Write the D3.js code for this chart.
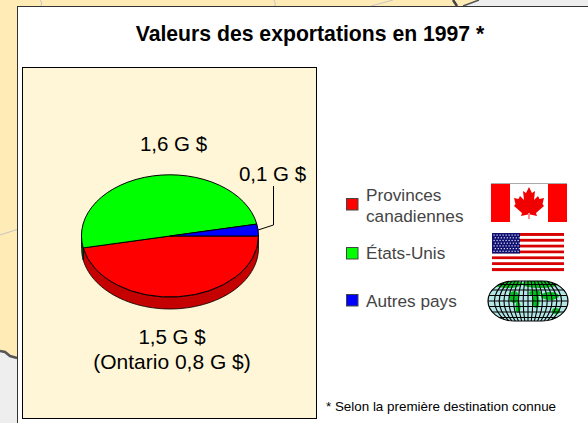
<!DOCTYPE html>
<html><head><meta charset="utf-8">
<script src="https://cdn.jsdelivr.net/npm/d3@7"></script>
<style>html,body{margin:0;padding:0;background:#fff}svg{display:block}text{font-family:"Liberation Sans",Arial,sans-serif}</style>
</head><body><svg id="c" width="588" height="423"></svg>
<script>
const categories = ["Provinces canadiennes", "États-Unis", "Autres pays"];
const values = [1.5, 1.6, 0.1];
const topColors = ["#ff0000", "#00ff00", "#0000ff"];
const sideColors = ["#c40000", "#006000", "#0000a0"];
const title = "Valeurs des exportations en 1997 *";
const footnote = "* Selon la première destination connue";

const svg = d3.select("#c");
// backdrop map
svg.append("rect").attr("width",588).attr("height",423).attr("fill","#ffebb6");
svg.append("path").attr("d","M0,352 L5,352 L10,356 L17,358 L17,423 L0,423Z").attr("fill","#eeeeee");
svg.append("path").attr("d","M479,0 L463,6 L588,6 L588,0Z").attr("fill","#eeeeee");
svg.append("path").attr("d","M0,351 L5,352 L10,356 L17,358").attr("fill","none").attr("stroke","#555").attr("stroke-width",2.5);
svg.append("path").attr("d","M453,0 L457,6").attr("fill","none").attr("stroke","#444").attr("stroke-width",2.5);
svg.append("path").attr("d","M479,0 L463,6").attr("fill","none").attr("stroke","#555").attr("stroke-width",1.5);
[["M0,235 L17,229.5"],["M371,6 L393,0"],["M274,0 Q276,3 275,6"],["M40,0 Q43,3 41,6"]].forEach(d=>
  svg.append("path").attr("d",d[0]).attr("fill","none").attr("stroke","#c4c4c4").attr("stroke-width",1));
// panels
svg.append("rect").attr("x",17.5).attr("y",6.5).attr("width",600).attr("height",450).attr("fill","#fff").attr("stroke","#333");
svg.append("rect").attr("x",22.5).attr("y",67.5).attr("width",294).attr("height",351).attr("fill","#fff6d8").attr("stroke","#000");

svg.append("text").attr("x",310).attr("y",41).attr("text-anchor","middle")
  .attr("font-size",21.2).attr("font-weight","bold").attr("fill","#000").text(title);

// pie
const cx=170, cy=236, rx=88.5, ry=61, depth=12;
const arcs = d3.pie().sort(null).value(d=>d).startAngle(Math.PI/2).endAngle(Math.PI/2+2*Math.PI)(values);
const toScreen = a => a-Math.PI/2;
const wall = d3.area().x(t=>cx+rx*Math.cos(t)).y0(t=>cy+ry*Math.sin(t)).y1(t=>cy+ry*Math.sin(t)+depth);
arcs.forEach((d,i)=>{
  const a0=Math.max(toScreen(d.startAngle),0), a1=Math.min(toScreen(d.endAngle),Math.PI);
  if(a1<=a0) return;
  const ts=d3.range(0,61).map(k=>a0+(a1-a0)*k/60);
  svg.append("path").attr("d",wall(ts)).attr("fill",sideColors[i]).attr("stroke","#000").attr("stroke-width",.8);
});
const g=svg.append("g").attr("transform",`translate(${cx},${cy}) scale(1,${ry/rx})`);
g.selectAll("path").data(arcs).join("path")
  .attr("d",d3.arc().innerRadius(0).outerRadius(rx))
  .attr("fill",(d,i)=>topColors[i]).attr("stroke","#000").attr("stroke-width",1)
  .attr("vector-effect","non-scaling-stroke");
svg.append("path").attr("d","M258,230 L273.5,225 L273.5,186").attr("fill","none").attr("stroke","#000").attr("stroke-width",1);

// data labels
const lab=(x,y,t,a="middle",s=20.5,c="#000")=>svg.append("text").attr("x",x).attr("y",y).attr("text-anchor",a).attr("font-size",s).attr("fill",c).text(t);
lab(173.5,151,"1,6 G $");
lab(272.5,180.5,"0,1 G $");
lab(172,344,"1,5 G $");
lab(172,369,"(Ontario 0,8 G $)",undefined,21);
lab(326,411,footnote,"start",13.4);

// legend
const swatchY=[198,247,294];
categories.forEach((c,i)=>svg.append("rect").attr("x",346.5).attr("y",swatchY[i]+.5).attr("width",11.5).attr("height",11.5)
  .attr("fill",topColors[i]).attr("stroke","#444").attr("stroke-width",1));
lab(366,201,"Provinces","start",17.2,"#444");
lab(366,222,"canadiennes","start",17.2,"#444");
lab(366,259,categories[1],"start",17.2,"#444");
lab(366,306.5,categories[2],"start",17.2,"#444");

// Canadian flag
const ca=svg.append("g");
ca.append("rect").attr("x",491).attr("y",183).attr("width",76).attr("height",39).attr("fill","#ff0000");
ca.append("rect").attr("x",510).attr("y",183).attr("width",38).attr("height",39).attr("fill","#fff");
ca.append("line").attr("x1",491).attr("x2",567).attr("y1",183.5).attr("y2",183.5).attr("stroke","#aaa");
const half=[[0,0],[3,6],[6,4],[5,13],[9,9],[10.5,12],[15,11],[13.5,17],[15,19],[7,26],[8,29],[1,27.5]];
const leaf=half.concat(half.slice(1).reverse().map(p=>[-p[0],p[1]]));
ca.append("polygon").attr("points",leaf.map(p=>[529+p[0],187+p[1]].join(",")).join(" ")).attr("fill","#f00000");
ca.append("line").attr("x1",529).attr("x2",529).attr("y1",213).attr("y2",219).attr("stroke","#ff9090").attr("stroke-width",2);

// US flag
const us=svg.append("g");
d3.range(13).forEach(i=>us.append("rect").attr("x",492).attr("y",233+i*38/13).attr("width",72).attr("height",38/13+.1).attr("fill",i%2?"#fff":"#d80000"));
us.append("rect").attr("x",492).attr("y",233).attr("width",28).attr("height",20.5).attr("fill","#101070");
d3.range(7).forEach(r=>d3.range(9).forEach(k=>us.append("rect").attr("x",493.5+k*3+(r%2)*1.2).attr("y",234.5+r*2.7).attr("width",1.2).attr("height",1.2).attr("fill","#e8e8ff")));

// Globe
const gl=svg.append("g");
const defs=svg.append("defs");
defs.append("clipPath").attr("id","gc").append("rect").attr("x",488).attr("y",281).attr("width",80).attr("height",40).attr("rx",26).attr("ry",20);
const gi=gl.append("g").attr("clip-path","url(#gc)");
gi.append("rect").attr("x",488).attr("y",281).attr("width",80).attr("height",40).attr("fill","#b4e6e6");
[[508,284,14,4],[540,284,18,4],[514,297,5,6],[518,307,2.5,6],[535,293,6,3],[536,301,3.5,7],[550,296,9,4],[556,311,4,3]].forEach(e=>
  gi.append("ellipse").attr("cx",e[0]).attr("cy",e[1]).attr("rx",e[2]).attr("ry",e[3]).attr("fill","#00c020"));
d3.range(-7,8).forEach(k=>gi.append("path").attr("d",`M${528+k*3.2},281 Q${528+k*6.4},301 ${528+k*3.2},321`).attr("fill","none").attr("stroke","#000").attr("stroke-width",1.1));
d3.range(-3,4).forEach(k=>gi.append("line").attr("x1",488).attr("x2",568).attr("y1",301+k*5.5).attr("y2",301+k*5.5).attr("stroke","#000").attr("stroke-width",1.1));
gl.append("rect").attr("x",488).attr("y",281).attr("width",80).attr("height",40).attr("rx",26).attr("ry",20).attr("fill","none").attr("stroke","#000").attr("stroke-width",1.2);
</script></body></html>
